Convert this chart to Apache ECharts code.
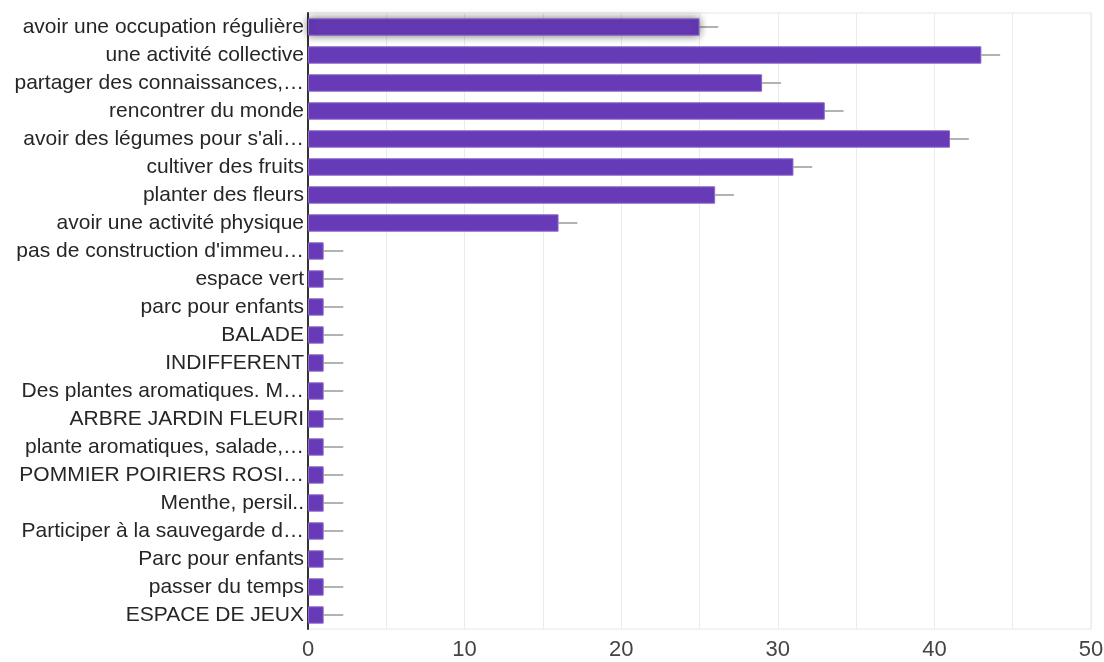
<!DOCTYPE html>
<html><head><meta charset="utf-8">
<script src="https://cdn.jsdelivr.net/npm/echarts@6/dist/echarts.min.js"></script>
<style>html,body{margin:0;padding:0;background:#fff}#c{width:1104px;height:662px}</style>
</head><body><div id="c"></div>
<script>
const categories = [
  "avoir une occupation régulière",
  "une activité collective",
  "partager des connaissances,…",
  "rencontrer du monde",
  "avoir des légumes pour s'ali…",
  "cultiver des fruits",
  "planter des fleurs",
  "avoir une activité physique",
  "pas de construction d'immeu…",
  "espace vert",
  "parc pour enfants",
  "BALADE",
  "INDIFFERENT",
  "Des plantes aromatiques. M…",
  "ARBRE JARDIN FLEURI",
  "plante aromatiques, salade,…",
  "POMMIER POIRIERS ROSI…",
  "Menthe, persil..",
  "Participer à la sauvegarde d…",
  "Parc pour enfants",
  "passer du temps",
  "ESPACE DE JEUX"
];
const values = [25, 43, 29, 33, 41, 31, 26, 16, 1, 1, 1, 1, 1, 1, 1, 1, 1, 1, 1, 1, 1, 1];
const errors = [1.2, 1.2, 1.2, 1.2, 1.2, 1.2, 1.2, 1.2, 1.25, 1.25, 1.25, 1.25, 1.25, 1.25, 1.25, 1.25, 1.25, 1.25, 1.25, 1.25, 1.25, 1.25];
const xTicks = [0, 10, 20, 30, 40, 50];

const chart = echarts.init(document.getElementById('c'));
const barData = values.map((v, i) => i === 0 ? {value: v, itemStyle: {shadowBlur: 8, shadowColor: 'rgba(0,0,0,0.55)'}} : v);
chart.setOption({
  animation: false,
  grid: {left: 308, right: 13, top: 13, bottom: 33, outerBoundsMode: 'none', containLabel: false, show: true, borderColor: '#e6e6e6', borderWidth: 1},
  xAxis: {
    type: 'value', min: 0, max: 50, interval: 5,
    axisLine: {show: false}, axisTick: {show: false},
    splitLine: {lineStyle: {color: '#ebebeb', width: 1}},
    axisLabel: {
      fontFamily: 'Liberation Sans, Arial, sans-serif', fontSize: 22, color: '#444', margin: 10,
      formatter: v => xTicks.includes(v) ? String(v) : ''
    }
  },
  yAxis: {
    type: 'category', data: categories, inverse: true,
    axisLine: {lineStyle: {color: '#333', width: 2}},
    axisTick: {show: false},
    axisLabel: {fontFamily: 'Liberation Sans, Arial, sans-serif', fontSize: 21, color: '#262626', margin: 4}
  },
  series: [
    {type: 'bar', data: barData, barCategoryGap: '38%', itemStyle: {color: '#673ab7', borderColor: '#8a66c9', borderWidth: 1}, z: 2},
    {
      type: 'custom', z: 1,
      data: values.map((v, i) => [i, v, errors[i]]),
      renderItem: (params, api) => {
        const i = api.value(0), v = api.value(1), e = api.value(2);
        const p0 = api.coord([v, i]);
        const p1 = api.coord([v + e, i]);
        return {type: 'line', shape: {x1: p0[0], y1: p0[1], x2: p1[0], y2: p1[1]}, style: {stroke: '#999', lineWidth: 1.5}};
      },
      encode: {x: 1, y: 0}
    }
  ]
});
</script></body></html>
